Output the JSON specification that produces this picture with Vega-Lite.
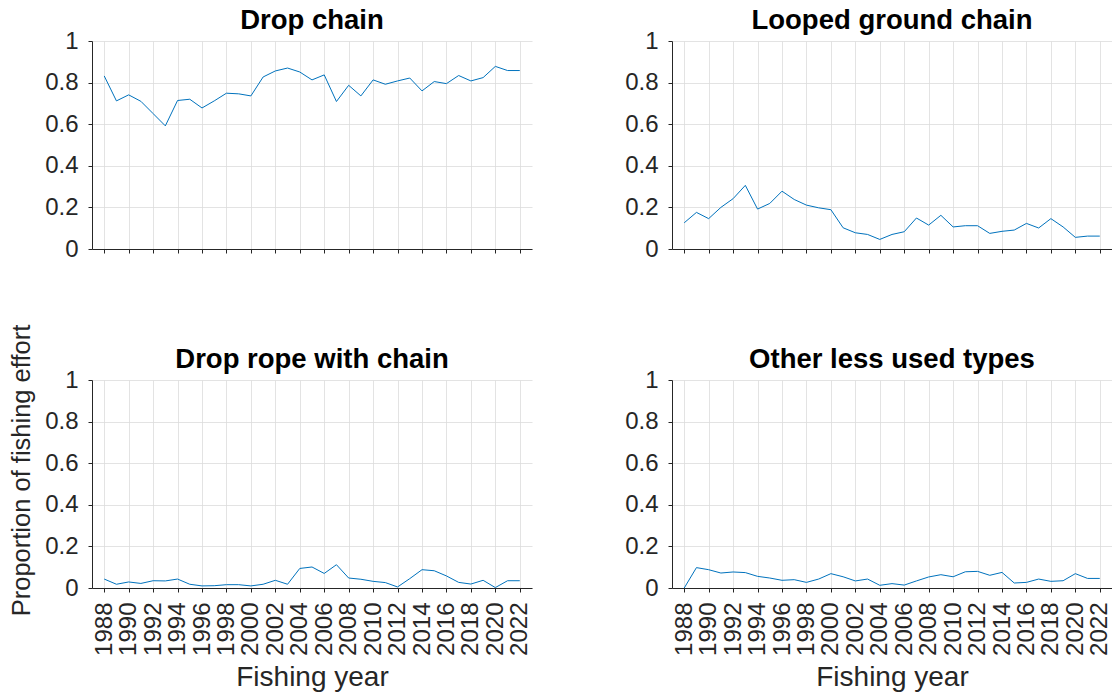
{
  "$schema": "https://vega.github.io/schema/vega-lite/v6.json",
  "background": "white",
  "padding": {"left": 9, "top": 6, "right": 0, "bottom": 0},
  "config": {
    "font": "Liberation Sans",
    "view": {"stroke": null},
    "axis": {
      "domainColor": "#262626",
      "tickColor": "#262626",
      "labelColor": "#262626",
      "titleColor": "#262626",
      "labelFont": "Liberation Sans",
      "titleFont": "Liberation Sans",
      "labelFontSize": 24,
      "titleFontSize": 28,
      "titleFontWeight": "normal",
      "tickSize": 4,
      "labelPadding": 10,
      "gridColor": "#dcdcdc",
      "gridWidth": 0.8
    },
    "title": {"fontSize": 27.5, "fontWeight": "bold", "color": "black", "offset": -5, "anchor": "middle", "frame": "group"}
  },
  "data": {
    "values": [
      {"year": 1988, "dc": 0.832, "lg": 0.126, "dr": 0.043, "ot": 0.0},
      {"year": 1989, "dc": 0.712, "lg": 0.176, "dr": 0.018, "ot": 0.098},
      {"year": 1990, "dc": 0.741, "lg": 0.146, "dr": 0.029, "ot": 0.088},
      {"year": 1991, "dc": 0.710, "lg": 0.200, "dr": 0.022, "ot": 0.072},
      {"year": 1992, "dc": 0.651, "lg": 0.242, "dr": 0.035, "ot": 0.077},
      {"year": 1993, "dc": 0.592, "lg": 0.306, "dr": 0.034, "ot": 0.074},
      {"year": 1994, "dc": 0.714, "lg": 0.192, "dr": 0.043, "ot": 0.056},
      {"year": 1995, "dc": 0.720, "lg": 0.219, "dr": 0.018, "ot": 0.048},
      {"year": 1996, "dc": 0.678, "lg": 0.278, "dr": 0.010, "ot": 0.037},
      {"year": 1997, "dc": 0.712, "lg": 0.238, "dr": 0.011, "ot": 0.040},
      {"year": 1998, "dc": 0.749, "lg": 0.211, "dr": 0.016, "ot": 0.027},
      {"year": 1999, "dc": 0.746, "lg": 0.198, "dr": 0.016, "ot": 0.043},
      {"year": 2000, "dc": 0.736, "lg": 0.189, "dr": 0.010, "ot": 0.069},
      {"year": 2001, "dc": 0.827, "lg": 0.102, "dr": 0.018, "ot": 0.054},
      {"year": 2002, "dc": 0.856, "lg": 0.078, "dr": 0.037, "ot": 0.034},
      {"year": 2003, "dc": 0.870, "lg": 0.070, "dr": 0.018, "ot": 0.043},
      {"year": 2004, "dc": 0.851, "lg": 0.046, "dr": 0.094, "ot": 0.013},
      {"year": 2005, "dc": 0.813, "lg": 0.070, "dr": 0.101, "ot": 0.021},
      {"year": 2006, "dc": 0.837, "lg": 0.083, "dr": 0.070, "ot": 0.014},
      {"year": 2007, "dc": 0.709, "lg": 0.149, "dr": 0.112, "ot": 0.034},
      {"year": 2008, "dc": 0.787, "lg": 0.115, "dr": 0.048, "ot": 0.053},
      {"year": 2009, "dc": 0.736, "lg": 0.162, "dr": 0.042, "ot": 0.064},
      {"year": 2010, "dc": 0.813, "lg": 0.106, "dr": 0.032, "ot": 0.054},
      {"year": 2011, "dc": 0.792, "lg": 0.112, "dr": 0.026, "ot": 0.078},
      {"year": 2012, "dc": 0.808, "lg": 0.112, "dr": 0.005, "ot": 0.080},
      {"year": 2013, "dc": 0.822, "lg": 0.075, "dr": 0.045, "ot": 0.061},
      {"year": 2014, "dc": 0.760, "lg": 0.085, "dr": 0.088, "ot": 0.075},
      {"year": 2015, "dc": 0.805, "lg": 0.091, "dr": 0.083, "ot": 0.024},
      {"year": 2016, "dc": 0.795, "lg": 0.123, "dr": 0.058, "ot": 0.027},
      {"year": 2017, "dc": 0.834, "lg": 0.101, "dr": 0.027, "ot": 0.043},
      {"year": 2018, "dc": 0.808, "lg": 0.146, "dr": 0.019, "ot": 0.032},
      {"year": 2019, "dc": 0.824, "lg": 0.106, "dr": 0.037, "ot": 0.035},
      {"year": 2020, "dc": 0.878, "lg": 0.056, "dr": 0.002, "ot": 0.069},
      {"year": 2021, "dc": 0.858, "lg": 0.062, "dr": 0.035, "ot": 0.046},
      {"year": 2022, "dc": 0.858, "lg": 0.062, "dr": 0.035, "ot": 0.046}
    ]
  },
  "columns": 2,
  "bounds": "flush",
  "spacing": {"row": 131, "column": 140},
  "concat": [
    {
      "title": "Drop chain",
      "width": 440,
      "height": 208,
      "mark": {"type": "line", "color": "#0072BD", "strokeWidth": 1},
      "encoding": {
        "x": {"field": "year", "type": "quantitative", "scale": {"domain": [1987, 2023], "nice": false},
              "axis": {"values": [1988, 1990, 1992, 1994, 1996, 1998, 2000, 2002, 2004, 2006, 2008, 2010, 2012, 2014, 2016, 2018, 2020, 2022], "labels": false, "title": null}},
        "y": {"field": "dc", "type": "quantitative", "scale": {"domain": [0, 1], "nice": false},
              "axis": {"values": [0, 0.2, 0.4, 0.6, 0.8, 1], "format": "~g", "title": null}}
      }
    },
    {
      "title": "Looped ground chain",
      "width": 440,
      "height": 208,
      "mark": {"type": "line", "color": "#0072BD", "strokeWidth": 1},
      "encoding": {
        "x": {"field": "year", "type": "quantitative", "scale": {"domain": [1987, 2023], "nice": false},
              "axis": {"values": [1988, 1990, 1992, 1994, 1996, 1998, 2000, 2002, 2004, 2006, 2008, 2010, 2012, 2014, 2016, 2018, 2020, 2022], "labels": false, "title": null}},
        "y": {"field": "lg", "type": "quantitative", "scale": {"domain": [0, 1], "nice": false},
              "axis": {"values": [0, 0.2, 0.4, 0.6, 0.8, 1], "format": "~g", "title": null}}
      }
    },
    {
      "title": {"text": "Drop rope with chain", "offset": -49},
      "width": 440,
      "height": 208,
      "mark": {"type": "line", "color": "#0072BD", "strokeWidth": 1},
      "encoding": {
        "x": {"field": "year", "type": "quantitative", "scale": {"domain": [1987, 2023], "nice": false},
              "axis": {"values": [1988, 1990, 1992, 1994, 1996, 1998, 2000, 2002, 2004, 2006, 2008, 2010, 2012, 2014, 2016, 2018, 2020, 2022], "format": "d", "labelAngle": -90, "labelAlign": "right", "labelBaseline": "middle", "title": "Fishing year", "titlePadding": 8}},
        "y": {"field": "dr", "type": "quantitative", "scale": {"domain": [0, 1], "nice": false},
              "axis": {"values": [0, 0.2, 0.4, 0.6, 0.8, 1], "format": "~g", "title": "Proportion of fishing effort", "titleFontSize": 25.5, "titlePadding": 10, "titleY": 90}}
      }
    },
    {
      "title": "Other less used types",
      "width": 440,
      "height": 208,
      "mark": {"type": "line", "color": "#0072BD", "strokeWidth": 1},
      "encoding": {
        "x": {"field": "year", "type": "quantitative", "scale": {"domain": [1987, 2023], "nice": false},
              "axis": {"values": [1988, 1990, 1992, 1994, 1996, 1998, 2000, 2002, 2004, 2006, 2008, 2010, 2012, 2014, 2016, 2018, 2020, 2022], "format": "d", "labelAngle": -90, "labelAlign": "right", "labelBaseline": "middle", "title": "Fishing year", "titlePadding": 8}},
        "y": {"field": "ot", "type": "quantitative", "scale": {"domain": [0, 1], "nice": false},
              "axis": {"values": [0, 0.2, 0.4, 0.6, 0.8, 1], "format": "~g", "title": null}}
      }
    }
  ]
}
